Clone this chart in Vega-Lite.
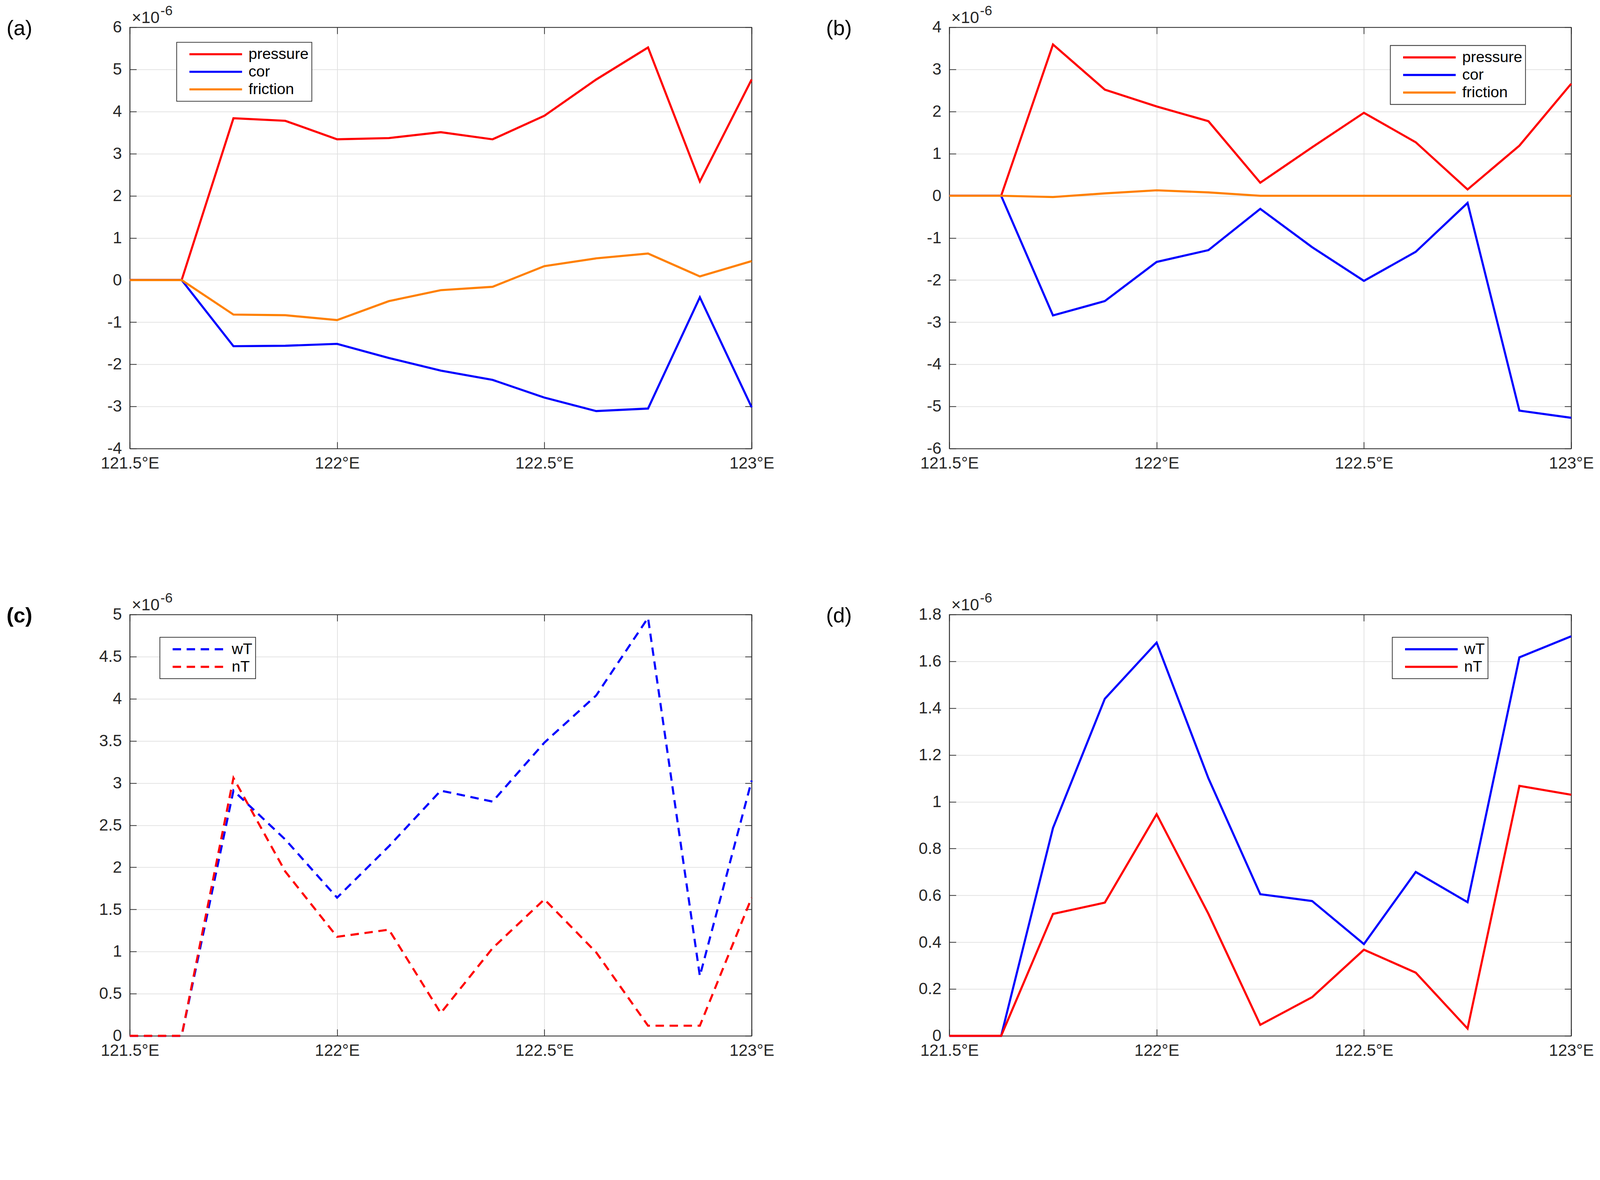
{
  "$schema": "https://vega.github.io/schema/vega-lite/v6.json",
  "background": "white",
  "autosize": {"type": "pad"},
  "padding": {"left": 15.3, "top": 8.8, "right": 4, "bottom": 0},
  "datasets": {
    "a": [
      {"lon": 121.5, "series": "pressure", "value": 0},
      {"lon": 121.625, "series": "pressure", "value": 0},
      {"lon": 121.75, "series": "pressure", "value": 3.84},
      {"lon": 121.875, "series": "pressure", "value": 3.78},
      {"lon": 122, "series": "pressure", "value": 3.34},
      {"lon": 122.125, "series": "pressure", "value": 3.37},
      {"lon": 122.25, "series": "pressure", "value": 3.51},
      {"lon": 122.375, "series": "pressure", "value": 3.34},
      {"lon": 122.5, "series": "pressure", "value": 3.9},
      {"lon": 122.625, "series": "pressure", "value": 4.76},
      {"lon": 122.75, "series": "pressure", "value": 5.52},
      {"lon": 122.875, "series": "pressure", "value": 2.34},
      {"lon": 123, "series": "pressure", "value": 4.76},
      {"lon": 121.5, "series": "cor", "value": 0},
      {"lon": 121.625, "series": "cor", "value": 0},
      {"lon": 121.75, "series": "cor", "value": -1.57},
      {"lon": 121.875, "series": "cor", "value": -1.56},
      {"lon": 122, "series": "cor", "value": -1.515},
      {"lon": 122.125, "series": "cor", "value": -1.85},
      {"lon": 122.25, "series": "cor", "value": -2.15},
      {"lon": 122.375, "series": "cor", "value": -2.37},
      {"lon": 122.5, "series": "cor", "value": -2.79},
      {"lon": 122.625, "series": "cor", "value": -3.11},
      {"lon": 122.75, "series": "cor", "value": -3.05},
      {"lon": 122.875, "series": "cor", "value": -0.41},
      {"lon": 123, "series": "cor", "value": -3.02},
      {"lon": 121.5, "series": "friction", "value": 0},
      {"lon": 121.625, "series": "friction", "value": 0},
      {"lon": 121.75, "series": "friction", "value": -0.82},
      {"lon": 121.875, "series": "friction", "value": -0.835},
      {"lon": 122, "series": "friction", "value": -0.95},
      {"lon": 122.125, "series": "friction", "value": -0.5},
      {"lon": 122.25, "series": "friction", "value": -0.24},
      {"lon": 122.375, "series": "friction", "value": -0.16},
      {"lon": 122.5, "series": "friction", "value": 0.33},
      {"lon": 122.625, "series": "friction", "value": 0.515},
      {"lon": 122.75, "series": "friction", "value": 0.63},
      {"lon": 122.875, "series": "friction", "value": 0.086},
      {"lon": 123, "series": "friction", "value": 0.45}
    ],
    "b": [
      {"lon": 121.5, "series": "pressure", "value": 0},
      {"lon": 121.625, "series": "pressure", "value": 0},
      {"lon": 121.75, "series": "pressure", "value": 3.59},
      {"lon": 121.875, "series": "pressure", "value": 2.52},
      {"lon": 122, "series": "pressure", "value": 2.12},
      {"lon": 122.125, "series": "pressure", "value": 1.77},
      {"lon": 122.25, "series": "pressure", "value": 0.31},
      {"lon": 122.375, "series": "pressure", "value": 1.15},
      {"lon": 122.5, "series": "pressure", "value": 1.97},
      {"lon": 122.625, "series": "pressure", "value": 1.27},
      {"lon": 122.75, "series": "pressure", "value": 0.15},
      {"lon": 122.875, "series": "pressure", "value": 1.19},
      {"lon": 123, "series": "pressure", "value": 2.66},
      {"lon": 121.5, "series": "cor", "value": 0},
      {"lon": 121.625, "series": "cor", "value": 0},
      {"lon": 121.75, "series": "cor", "value": -2.84},
      {"lon": 121.875, "series": "cor", "value": -2.5},
      {"lon": 122, "series": "cor", "value": -1.57},
      {"lon": 122.125, "series": "cor", "value": -1.29},
      {"lon": 122.25, "series": "cor", "value": -0.31},
      {"lon": 122.375, "series": "cor", "value": -1.22},
      {"lon": 122.5, "series": "cor", "value": -2.02},
      {"lon": 122.625, "series": "cor", "value": -1.33},
      {"lon": 122.75, "series": "cor", "value": -0.17},
      {"lon": 122.875, "series": "cor", "value": -5.1},
      {"lon": 123, "series": "cor", "value": -5.27},
      {"lon": 121.5, "series": "friction", "value": 0},
      {"lon": 121.625, "series": "friction", "value": 0},
      {"lon": 121.75, "series": "friction", "value": -0.03},
      {"lon": 121.875, "series": "friction", "value": 0.057},
      {"lon": 122, "series": "friction", "value": 0.13},
      {"lon": 122.125, "series": "friction", "value": 0.08},
      {"lon": 122.25, "series": "friction", "value": 0},
      {"lon": 122.375, "series": "friction", "value": 0},
      {"lon": 122.5, "series": "friction", "value": 0},
      {"lon": 122.625, "series": "friction", "value": 0},
      {"lon": 122.75, "series": "friction", "value": 0},
      {"lon": 122.875, "series": "friction", "value": 0},
      {"lon": 123, "series": "friction", "value": 0}
    ],
    "c": [
      {"lon": 121.5, "series": "wT", "value": 0},
      {"lon": 121.625, "series": "wT", "value": 0},
      {"lon": 121.75, "series": "wT", "value": 2.91},
      {"lon": 121.875, "series": "wT", "value": 2.33},
      {"lon": 122, "series": "wT", "value": 1.64},
      {"lon": 122.125, "series": "wT", "value": 2.25},
      {"lon": 122.25, "series": "wT", "value": 2.91},
      {"lon": 122.375, "series": "wT", "value": 2.78},
      {"lon": 122.5, "series": "wT", "value": 3.48},
      {"lon": 122.625, "series": "wT", "value": 4.04},
      {"lon": 122.75, "series": "wT", "value": 4.96},
      {"lon": 122.875, "series": "wT", "value": 0.71},
      {"lon": 123, "series": "wT", "value": 3.03},
      {"lon": 121.5, "series": "nT", "value": 0},
      {"lon": 121.625, "series": "nT", "value": 0},
      {"lon": 121.75, "series": "nT", "value": 3.06},
      {"lon": 121.875, "series": "nT", "value": 1.95},
      {"lon": 122, "series": "nT", "value": 1.175},
      {"lon": 122.125, "series": "nT", "value": 1.26},
      {"lon": 122.25, "series": "nT", "value": 0.27},
      {"lon": 122.375, "series": "nT", "value": 1.04},
      {"lon": 122.5, "series": "nT", "value": 1.62},
      {"lon": 122.625, "series": "nT", "value": 0.99},
      {"lon": 122.75, "series": "nT", "value": 0.12},
      {"lon": 122.875, "series": "nT", "value": 0.12},
      {"lon": 123, "series": "nT", "value": 1.64}
    ],
    "d": [
      {"lon": 121.5, "series": "wT", "value": 0},
      {"lon": 121.625, "series": "wT", "value": 0},
      {"lon": 121.75, "series": "wT", "value": 0.888},
      {"lon": 121.875, "series": "wT", "value": 1.44},
      {"lon": 122, "series": "wT", "value": 1.68},
      {"lon": 122.125, "series": "wT", "value": 1.1},
      {"lon": 122.25, "series": "wT", "value": 0.605},
      {"lon": 122.375, "series": "wT", "value": 0.576},
      {"lon": 122.5, "series": "wT", "value": 0.392},
      {"lon": 122.625, "series": "wT", "value": 0.7},
      {"lon": 122.75, "series": "wT", "value": 0.571},
      {"lon": 122.875, "series": "wT", "value": 1.617},
      {"lon": 123, "series": "wT", "value": 1.707},
      {"lon": 121.5, "series": "nT", "value": 0},
      {"lon": 121.625, "series": "nT", "value": 0},
      {"lon": 121.75, "series": "nT", "value": 0.521},
      {"lon": 121.875, "series": "nT", "value": 0.569},
      {"lon": 122, "series": "nT", "value": 0.947},
      {"lon": 122.125, "series": "nT", "value": 0.521},
      {"lon": 122.25, "series": "nT", "value": 0.047},
      {"lon": 122.375, "series": "nT", "value": 0.165},
      {"lon": 122.5, "series": "nT", "value": 0.368},
      {"lon": 122.625, "series": "nT", "value": 0.27},
      {"lon": 122.75, "series": "nT", "value": 0.031},
      {"lon": 122.875, "series": "nT", "value": 1.068},
      {"lon": 123, "series": "nT", "value": 1.03}
    ]
  },
  "columns": 2,
  "spacing": {"row": 304, "column": 130},
  "resolve": {"scale": {"color": "independent"}, "legend": {"color": "independent"}},
  "concat": [
    {
      "width": 1592, "height": 1079,
      "data": {"name": "a"},
      "layer": [
        {
          "mark": {"type": "line", "strokeWidth": 5.4},
          "encoding": {
            "x": {"field": "lon", "type": "quantitative",
              "scale": {"domain": [121.5, 123], "nice": false, "zero": false},
              "axis": {"orient": "bottom", "values": [121.5, 122, 122.5, 123], "labelExpr": "datum.value + '°E'", "title": null, "grid": true, "labelPadding": 34.5}},
            "y": {"field": "value", "type": "quantitative",
              "scale": {"domain": [-4, 6], "nice": false, "zero": false},
              "axis": {"orient": "left", "values": [-4, -3, -2, -1, 0, 1, 2, 3, 4, 5, 6], "labelExpr": "'' + datum.value", "grid": true, "labelPadding": 37.7,
                "title": "×10", "titleX": 4.5, "titleY": -10.8, "titleAngle": 0, "titleAlign": "left", "titleBaseline": "alphabetic"}},
            "color": {"field": "series", "type": "nominal",
              "scale": {"domain": ["pressure", "cor", "friction"], "range": ["#ff0000", "#0000ff", "#ff8000"]},
              "legend": {"legendX": 120, "legendY": 38.6}}
          }
        },
        {
          "mark": {"type": "line", "strokeOpacity": 0},
          "encoding": {
            "x": {"field": "lon", "type": "quantitative",
              "scale": {"domain": [121.5, 123], "nice": false, "zero": false},
              "axis": {"orient": "top", "values": [121.5, 122, 122.5, 123], "labels": false, "grid": false,
                "title": "(a)", "titleX": -316, "titleY": 19.75, "titleAngle": 0, "titleAlign": "left", "titleBaseline": "alphabetic", "titleFontSize": 54, "titleColor": "#000000"}},
            "y": {"field": "value", "type": "quantitative",
              "scale": {"domain": [-4, 6], "nice": false, "zero": false},
              "axis": {"orient": "right", "values": [-4, -3, -2, -1, 0, 1, 2, 3, 4, 5, 6], "labels": false, "grid": false,
                "title": "-6", "titleX": -1514, "titleY": -31.4, "titleAngle": 0, "titleAlign": "left", "titleBaseline": "alphabetic", "titleFontSize": 35}}
          }
        }
      ],
      "resolve": {"axis": {"x": "independent", "y": "independent"}}
    },
    {
      "width": 1592, "height": 1079,
      "data": {"name": "b"},
      "layer": [
        {
          "mark": {"type": "line", "strokeWidth": 5.4},
          "encoding": {
            "x": {"field": "lon", "type": "quantitative",
              "scale": {"domain": [121.5, 123], "nice": false, "zero": false},
              "axis": {"orient": "bottom", "values": [121.5, 122, 122.5, 123], "labelExpr": "datum.value + '°E'", "title": null, "grid": true, "labelPadding": 34.5}},
            "y": {"field": "value", "type": "quantitative",
              "scale": {"domain": [-6, 4], "nice": false, "zero": false},
              "axis": {"orient": "left", "values": [-6, -5, -4, -3, -2, -1, 0, 1, 2, 3, 4], "labelExpr": "'' + datum.value", "grid": true, "labelPadding": 37.7,
                "title": "×10", "titleX": 4.5, "titleY": -10.8, "titleAngle": 0, "titleAlign": "left", "titleBaseline": "alphabetic"}},
            "color": {"field": "series", "type": "nominal",
              "scale": {"domain": ["pressure", "cor", "friction"], "range": ["#ff0000", "#0000ff", "#ff8000"]},
              "legend": {"legendX": 1129, "legendY": 46.7}}
          }
        },
        {
          "mark": {"type": "line", "strokeOpacity": 0},
          "encoding": {
            "x": {"field": "lon", "type": "quantitative",
              "scale": {"domain": [121.5, 123], "nice": false, "zero": false},
              "axis": {"orient": "top", "values": [121.5, 122, 122.5, 123], "labels": false, "grid": false,
                "title": "(b)", "titleX": -316, "titleY": 19.75, "titleAngle": 0, "titleAlign": "left", "titleBaseline": "alphabetic", "titleFontSize": 54, "titleColor": "#000000"}},
            "y": {"field": "value", "type": "quantitative",
              "scale": {"domain": [-6, 4], "nice": false, "zero": false},
              "axis": {"orient": "right", "values": [-6, -5, -4, -3, -2, -1, 0, 1, 2, 3, 4], "labels": false, "grid": false,
                "title": "-6", "titleX": -1514, "titleY": -31.4, "titleAngle": 0, "titleAlign": "left", "titleBaseline": "alphabetic", "titleFontSize": 35}}
          }
        }
      ],
      "resolve": {"axis": {"x": "independent", "y": "independent"}}
    },
    {
      "width": 1592, "height": 1079,
      "data": {"name": "c"},
      "layer": [
        {
          "mark": {"type": "line", "strokeWidth": 5.4, "strokeDash": [21.5, 14.4]},
          "encoding": {
            "x": {"field": "lon", "type": "quantitative",
              "scale": {"domain": [121.5, 123], "nice": false, "zero": false},
              "axis": {"orient": "bottom", "values": [121.5, 122, 122.5, 123], "labelExpr": "datum.value + '°E'", "title": null, "grid": true, "labelPadding": 34.5}},
            "y": {"field": "value", "type": "quantitative",
              "scale": {"domain": [0, 5], "nice": false, "zero": false},
              "axis": {"orient": "left", "values": [0, 0.5, 1, 1.5, 2, 2.5, 3, 3.5, 4, 4.5, 5], "labelExpr": "'' + datum.value", "grid": true, "labelPadding": 37.7,
                "title": "×10", "titleX": 4.5, "titleY": -10.8, "titleAngle": 0, "titleAlign": "left", "titleBaseline": "alphabetic"}},
            "color": {"field": "series", "type": "nominal",
              "scale": {"domain": ["wT", "nT"], "range": ["#0000ff", "#ff0000"]},
              "legend": {"legendX": 77, "legendY": 58.4, "symbolDash": [21.5, 14.4]}}
          }
        },
        {
          "mark": {"type": "line", "strokeOpacity": 0},
          "encoding": {
            "x": {"field": "lon", "type": "quantitative",
              "scale": {"domain": [121.5, 123], "nice": false, "zero": false},
              "axis": {"orient": "top", "values": [121.5, 122, 122.5, 123], "labels": false, "grid": false,
                "title": "(c)", "titleX": -316, "titleY": 19.75, "titleAngle": 0, "titleAlign": "left", "titleBaseline": "alphabetic", "titleFontSize": 54, "titleFontWeight": "bold", "titleColor": "#000000"}},
            "y": {"field": "value", "type": "quantitative",
              "scale": {"domain": [0, 5], "nice": false, "zero": false},
              "axis": {"orient": "right", "values": [0, 0.5, 1, 1.5, 2, 2.5, 3, 3.5, 4, 4.5, 5], "labels": false, "grid": false,
                "title": "-6", "titleX": -1514, "titleY": -31.4, "titleAngle": 0, "titleAlign": "left", "titleBaseline": "alphabetic", "titleFontSize": 35}}
          }
        }
      ],
      "resolve": {"axis": {"x": "independent", "y": "independent"}}
    },
    {
      "width": 1592, "height": 1079,
      "data": {"name": "d"},
      "layer": [
        {
          "mark": {"type": "line", "strokeWidth": 5.4},
          "encoding": {
            "x": {"field": "lon", "type": "quantitative",
              "scale": {"domain": [121.5, 123], "nice": false, "zero": false},
              "axis": {"orient": "bottom", "values": [121.5, 122, 122.5, 123], "labelExpr": "datum.value + '°E'", "title": null, "grid": true, "labelPadding": 34.5}},
            "y": {"field": "value", "type": "quantitative",
              "scale": {"domain": [0, 1.8], "nice": false, "zero": false},
              "axis": {"orient": "left", "values": [0, 0.2, 0.4, 0.6, 0.8, 1, 1.2, 1.4, 1.6, 1.8], "labelExpr": "'' + datum.value", "grid": true, "labelPadding": 37.7,
                "title": "×10", "titleX": 4.5, "titleY": -10.8, "titleAngle": 0, "titleAlign": "left", "titleBaseline": "alphabetic"}},
            "color": {"field": "series", "type": "nominal",
              "scale": {"domain": ["wT", "nT"], "range": ["#0000ff", "#ff0000"]},
              "legend": {"legendX": 1134, "legendY": 58.4}}
          }
        },
        {
          "mark": {"type": "line", "strokeOpacity": 0},
          "encoding": {
            "x": {"field": "lon", "type": "quantitative",
              "scale": {"domain": [121.5, 123], "nice": false, "zero": false},
              "axis": {"orient": "top", "values": [121.5, 122, 122.5, 123], "labels": false, "grid": false,
                "title": "(d)", "titleX": -316, "titleY": 19.75, "titleAngle": 0, "titleAlign": "left", "titleBaseline": "alphabetic", "titleFontSize": 54, "titleColor": "#000000"}},
            "y": {"field": "value", "type": "quantitative",
              "scale": {"domain": [0, 1.8], "nice": false, "zero": false},
              "axis": {"orient": "right", "values": [0, 0.2, 0.4, 0.6, 0.8, 1, 1.2, 1.4, 1.6, 1.8], "labels": false, "grid": false,
                "title": "-6", "titleX": -1514, "titleY": -31.4, "titleAngle": 0, "titleAlign": "left", "titleBaseline": "alphabetic", "titleFontSize": 35}}
          }
        }
      ],
      "resolve": {"axis": {"x": "independent", "y": "independent"}}
    }
  ],
  "config": {
    "font": "Liberation Sans",
    "view": {"stroke": "#262626", "strokeWidth": 1.8},
    "axis": {
      "labelFont": "Liberation Sans", "labelFontSize": 42, "labelColor": "#262626",
      "labelFlush": false, "labelOverlap": false, "labelBound": false,
      "domainColor": "#262626", "domainWidth": 1.8,
      "tickColor": "#262626", "tickWidth": 1.8, "tickSize": -17,
      "gridColor": "#dfdfdf", "gridWidth": 1.8,
      "titleFont": "Liberation Sans", "titleFontSize": 42, "titleFontWeight": "normal", "titleColor": "#262626"
    },
    "legend": {
      "orient": "none", "title": null,
      "symbolType": "stroke", "symbolSize": 18144, "symbolStrokeWidth": 5.4,
      "clipHeight": 45, "padding": 8, "rowPadding": 0,
      "symbolOffset": 21.5, "labelOffset": 13.5,
      "labelFont": "Liberation Sans", "labelFontSize": 39.5, "labelColor": "#000000", "labelLimit": 500,
      "strokeColor": "#262626", "strokeWidth": 1.8, "fillColor": "#ffffff"
    }
  }
}
